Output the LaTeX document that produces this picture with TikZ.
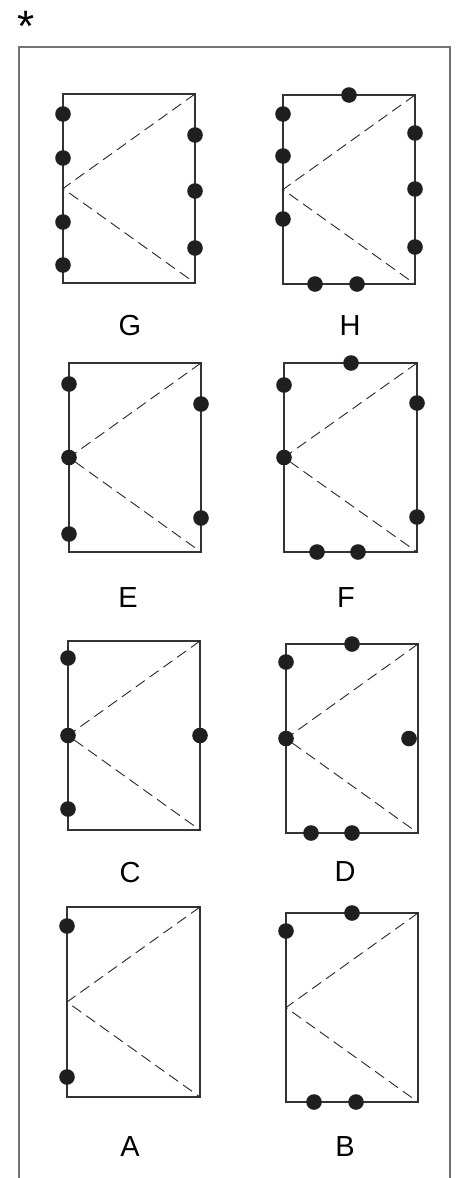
\documentclass[tikz,border=0pt]{standalone}
\usepackage{fontspec}
\setmainfont{Liberation Sans}
\begin{document}
\begin{tikzpicture}[x=1pt,y=-1pt,
  frame/.style={draw=black!55,line width=1.3pt},
  panelbox/.style={draw=black!80,line width=1.1pt},
  diag/.style={draw=black!85,line width=0.9pt,dash pattern=on 11pt off 6pt},
  dot/.style={fill=black!88,draw=none},
  lbl/.style={inner sep=0pt,font=\fontsize{29}{30}\selectfont}]
\useasboundingbox (0,0) rectangle (457,1178);
\node[inner sep=0pt,anchor=base,font=\fontsize{44}{44}\selectfont] (star) at (26,41) {*};
\draw[frame] (19,1178) -- (19,47) -- (450,47) -- (450,1178);
% G
\draw[panelbox] (63,94) rectangle (195,283);
\draw[diag] (195,94) -- (63,188.5) -- (195,283);
\foreach \y in {114,158,222,265} \fill[dot] (63,\y) circle (7.8);
\foreach \y in {135,191,248} \fill[dot] (195,\y) circle (7.8);
\node[lbl] (G) at (130,326) {G};
% H
\draw[panelbox] (283,95) rectangle (415,284);
\draw[diag] (415,95) -- (283,189.5) -- (415,284);
\fill[dot] (349,95) circle (7.8);
\foreach \y in {114,156,219} \fill[dot] (283,\y) circle (7.8);
\foreach \y in {133,189,247} \fill[dot] (415,\y) circle (7.8);
\foreach \x in {315,357} \fill[dot] (\x,284) circle (7.8);
\node[lbl] (H) at (350,326) {H};
% E
\draw[panelbox] (69,363) rectangle (201,552);
\draw[diag] (201,363) -- (69,457.5) -- (201,552);
\foreach \y in {384,457.5,534} \fill[dot] (69,\y) circle (7.8);
\foreach \y in {404,518} \fill[dot] (201,\y) circle (7.8);
\node[lbl] (E) at (128,598) {E};
% F
\draw[panelbox] (284,363) rectangle (417,552);
\draw[diag] (417,363) -- (284,457.5) -- (417,552);
\fill[dot] (351,363) circle (7.8);
\foreach \y in {385,457.5} \fill[dot] (284,\y) circle (7.8);
\foreach \y in {403,517} \fill[dot] (417,\y) circle (7.8);
\foreach \x in {317,358} \fill[dot] (\x,552) circle (7.8);
\node[lbl] (F) at (346,598) {F};
% C
\draw[panelbox] (68,641) rectangle (200,830);
\draw[diag] (200,641) -- (68,735.5) -- (200,830);
\foreach \y in {658,735.5,809} \fill[dot] (68,\y) circle (7.8);
\fill[dot] (200,735.5) circle (7.8);
\node[lbl] (C) at (130,873) {C};
% D
\draw[panelbox] (286,644) rectangle (418,833);
\draw[diag] (418,644) -- (286,738.5) -- (418,833);
\fill[dot] (352,644) circle (7.8);
\foreach \y in {662,738.5} \fill[dot] (286,\y) circle (7.8);
\fill[dot] (409,738.5) circle (7.8);
\foreach \x in {311,352} \fill[dot] (\x,833) circle (7.8);
\node[lbl] (D) at (345,872) {D};
% A
\draw[panelbox] (67,907) rectangle (200,1097);
\draw[diag] (200,907) -- (67,1002) -- (200,1097);
\foreach \y in {926,1077} \fill[dot] (67,\y) circle (7.8);
\node[lbl] (A) at (130,1147) {A};
% B
\draw[panelbox] (286,913) rectangle (418,1102);
\draw[diag] (418,913) -- (286,1007.5) -- (418,1102);
\fill[dot] (352,913) circle (7.8);
\fill[dot] (286,931) circle (7.8);
\foreach \x in {314,356} \fill[dot] (\x,1102) circle (7.8);
\node[lbl] (B) at (345,1147) {B};
\end{tikzpicture}
\end{document}
